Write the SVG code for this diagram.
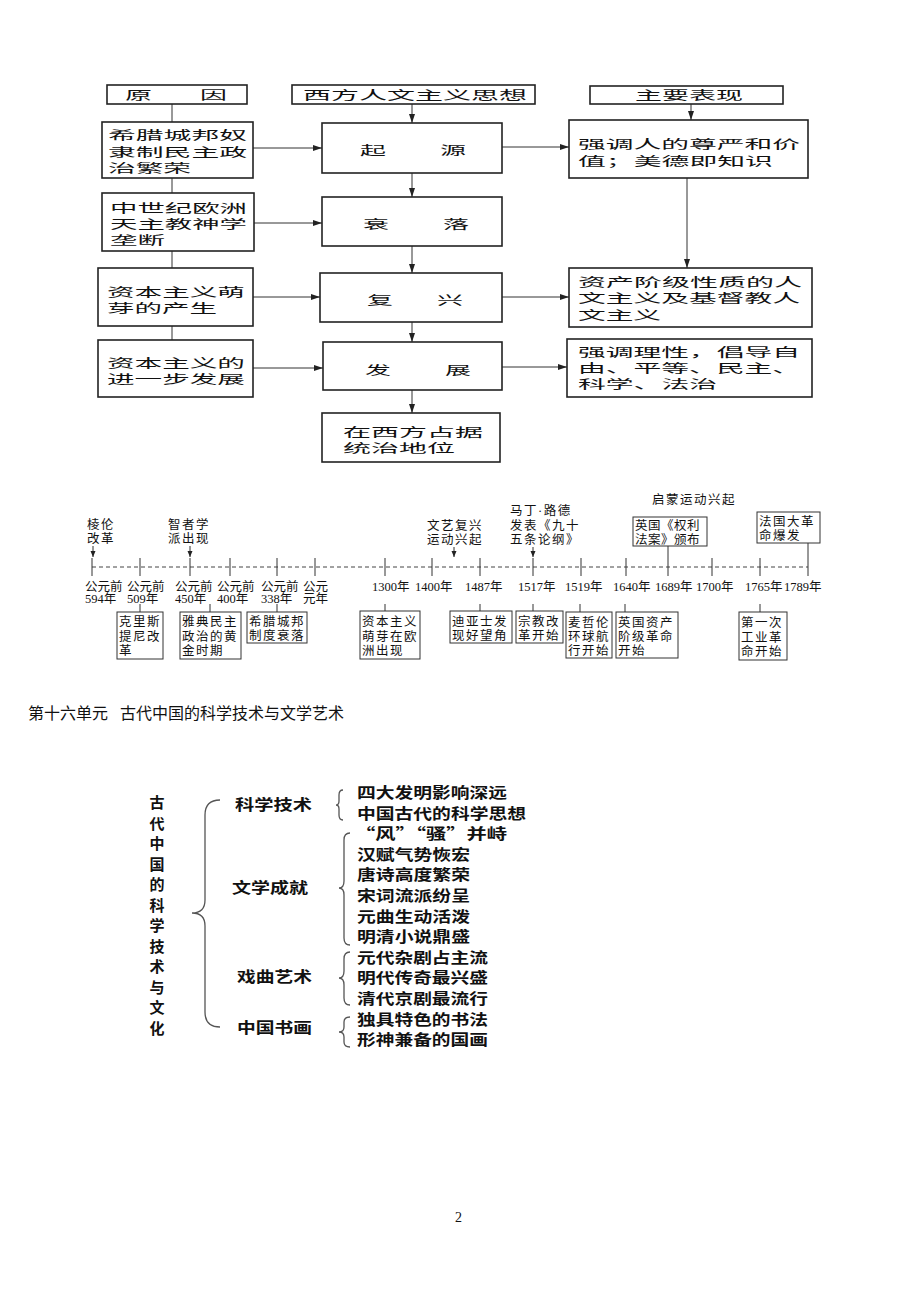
<svg xmlns="http://www.w3.org/2000/svg" width="920" height="1302" viewBox="0 0 920 1302">
<style>
.box{fill:#fff;stroke:#222;stroke-width:1.6}
.tbox{fill:#fff;stroke:#333;stroke-width:1}
.ft{font-family:"Noto Sans CJK SC",sans-serif;font-size:12.5px;fill:#111}
.tl{font-family:"Liberation Serif","Noto Sans CJK SC",serif;font-size:12.5px;fill:#111}
.tb{font-family:"Liberation Serif","Noto Sans CJK SC",serif;font-size:12.5px;letter-spacing:1.5px;fill:#111}
.bt{font-family:"Noto Sans CJK SC",sans-serif;font-size:15px;font-weight:bold;fill:#111}
.ttl{font-family:"Noto Sans CJK SC",sans-serif;font-size:16px;fill:#111}
.pg{font-family:"Liberation Serif",serif;font-size:14px;fill:#111}
.conn{stroke:#333;stroke-width:1;fill:none}
.arr{stroke:#333;stroke-width:1;fill:none;marker-end:url(#ah)}
.sarr{stroke:#333;stroke-width:1;fill:none;marker-end:url(#sah)}
.axis{stroke:#444;stroke-width:1;stroke-dasharray:4 3;fill:none}
.brace{stroke:#555;stroke-width:1.3;fill:none}
</style>
<defs>
<marker id="ah" markerWidth="9" markerHeight="6" refX="9" refY="3" orient="auto" markerUnits="userSpaceOnUse"><path d="M0,0 L9,3 L0,6 z" fill="#222"/></marker>
<marker id="sah" markerWidth="6" markerHeight="6" refX="6" refY="3" orient="auto" markerUnits="userSpaceOnUse"><path d="M0,0.5 L6,3 L0,5.5 z" fill="#222"/></marker>
</defs>

<!-- Flowchart connectors -->
<g id="connectors">
<line class="conn" x1="172" y1="104" x2="172" y2="122"/>
<line class="conn" x1="172" y1="178" x2="172" y2="193"/>
<line class="conn" x1="172" y1="251" x2="172" y2="268"/>
<line class="conn" x1="172" y1="326" x2="172" y2="340"/>
<line class="arr" x1="253" y1="148" x2="322" y2="148"/>
<line class="arr" x1="254" y1="223" x2="322" y2="223"/>
<line class="arr" x1="253" y1="297" x2="320" y2="297"/>
<line class="arr" x1="253" y1="368" x2="323" y2="368"/>
<line class="arr" x1="502" y1="147" x2="569" y2="147"/>
<line class="arr" x1="502" y1="297" x2="569" y2="297"/>
<line class="arr" x1="502" y1="367" x2="567" y2="367"/>
<line class="arr" x1="412" y1="104" x2="412" y2="123"/>
<line class="arr" x1="412" y1="173" x2="412" y2="197"/>
<line class="arr" x1="412" y1="246" x2="412" y2="273"/>
<line class="arr" x1="412" y1="322" x2="412" y2="342"/>
<line class="arr" x1="412" y1="390" x2="412" y2="413"/>
<line class="arr" x1="691" y1="104" x2="691" y2="120"/>
<line class="arr" x1="687" y1="178" x2="687" y2="268"/>
<!-- timeline connectors -->
<line class="axis" x1="92" y1="567" x2="808" y2="567"/>
<g class="conn">
<line x1="92" y1="558" x2="92" y2="576"/>
<line x1="140" y1="558" x2="140" y2="576"/>
<line x1="190" y1="558" x2="190" y2="576"/>
<line x1="230" y1="558" x2="230" y2="576"/>
<line x1="277" y1="558" x2="277" y2="576"/>
<line x1="315" y1="558" x2="315" y2="576"/>
<line x1="385" y1="558" x2="385" y2="576"/>
<line x1="432" y1="558" x2="432" y2="576"/>
<line x1="480" y1="558" x2="480" y2="576"/>
<line x1="533" y1="558" x2="533" y2="576"/>
<line x1="581" y1="558" x2="581" y2="576"/>
<line x1="626" y1="558" x2="626" y2="576"/>
<line x1="668" y1="546" x2="668" y2="576"/>
<line x1="712" y1="558" x2="712" y2="576"/>
<line x1="760" y1="558" x2="760" y2="576"/>
<line x1="808" y1="543" x2="808" y2="576"/>
<line x1="140" y1="604" x2="140" y2="612"/>
<line x1="210" y1="604" x2="210" y2="612"/>
<line x1="277" y1="604" x2="277" y2="612"/>
<line x1="385" y1="604" x2="385" y2="611"/>
<line x1="480" y1="604" x2="480" y2="611"/>
<line x1="533" y1="604" x2="533" y2="611"/>
<line x1="580" y1="604" x2="580" y2="612"/>
<line x1="625" y1="604" x2="625" y2="612"/>
<line x1="760" y1="604" x2="760" y2="612"/>
</g>
<line class="sarr" x1="93" y1="546" x2="93" y2="557"/>
<line class="sarr" x1="190" y1="546" x2="190" y2="557"/>
<line class="sarr" x1="454" y1="547" x2="454" y2="557"/>
<line class="sarr" x1="533" y1="547" x2="533" y2="557"/>
</g>

<!-- Flowchart nodes -->
<g id="n_cause_hdr"><rect class="box" x="107" y="85" width="140" height="19"/>
<text class="ft" y="100"><tspan x="125" textLength="27" lengthAdjust="spacingAndGlyphs">原</tspan><tspan x="200" textLength="27" lengthAdjust="spacingAndGlyphs">因</tspan></text></g>
<g id="n_title"><rect class="box" x="292" y="85" width="243" height="19"/>
<text class="ft" x="303" y="100" textLength="224" lengthAdjust="spacingAndGlyphs">西方人文主义思想</text></g>
<g id="n_perf_hdr"><rect class="box" x="590" y="86" width="193" height="18"/>
<text class="ft" x="635" y="100" textLength="108" lengthAdjust="spacingAndGlyphs">主要表现</text></g>

<g id="n_c1"><rect class="box" x="102" y="122" width="151" height="56"/>
<text class="ft" x="108" y="140" textLength="139" lengthAdjust="spacingAndGlyphs">希腊城邦奴</text>
<text class="ft" x="108" y="156.5" textLength="139" lengthAdjust="spacingAndGlyphs">隶制民主政</text>
<text class="ft" x="108" y="172.5" textLength="83" lengthAdjust="spacingAndGlyphs">治繁荣</text></g>
<g id="n_origin"><rect class="box" x="322" y="123" width="180" height="50"/>
<text class="ft" y="155"><tspan x="360" textLength="26" lengthAdjust="spacingAndGlyphs">起</tspan><tspan x="440" textLength="26" lengthAdjust="spacingAndGlyphs">源</tspan></text></g>
<g id="n_p1"><rect class="box" x="569" y="120" width="239" height="58"/>
<text class="ft" x="578" y="149" textLength="222" lengthAdjust="spacingAndGlyphs">强调人的尊严和价</text>
<text class="ft" x="578" y="166" textLength="195" lengthAdjust="spacingAndGlyphs">值；美德即知识</text></g>

<g id="n_c2"><rect class="box" x="102" y="193" width="152" height="58"/>
<text class="ft" x="110" y="213" textLength="137" lengthAdjust="spacingAndGlyphs">中世纪欧洲</text>
<text class="ft" x="110" y="229" textLength="137" lengthAdjust="spacingAndGlyphs">天主教神学</text>
<text class="ft" x="110" y="245" textLength="55" lengthAdjust="spacingAndGlyphs">垄断</text></g>
<g id="n_decline"><rect class="box" x="322" y="197" width="180" height="49"/>
<text class="ft" y="229"><tspan x="363" textLength="26" lengthAdjust="spacingAndGlyphs">衰</tspan><tspan x="443" textLength="26" lengthAdjust="spacingAndGlyphs">落</tspan></text></g>

<g id="n_c3"><rect class="box" x="98" y="268" width="155" height="58"/>
<text class="ft" x="107" y="297" textLength="138" lengthAdjust="spacingAndGlyphs">资本主义萌</text>
<text class="ft" x="107" y="313" textLength="110" lengthAdjust="spacingAndGlyphs">芽的产生</text></g>
<g id="n_revival"><rect class="box" x="320" y="273" width="182" height="49"/>
<text class="ft" y="305"><tspan x="367" textLength="26" lengthAdjust="spacingAndGlyphs">复</tspan><tspan x="437" textLength="26" lengthAdjust="spacingAndGlyphs">兴</tspan></text></g>
<g id="n_p2"><rect class="box" x="569" y="268" width="243" height="59"/>
<text class="ft" x="578" y="287" textLength="224" lengthAdjust="spacingAndGlyphs">资产阶级性质的人</text>
<text class="ft" x="578" y="303" textLength="222" lengthAdjust="spacingAndGlyphs">文主义及基督教人</text>
<text class="ft" x="578" y="319.5" textLength="83" lengthAdjust="spacingAndGlyphs">文主义</text></g>

<g id="n_c4"><rect class="box" x="98" y="340" width="155" height="57"/>
<text class="ft" x="107" y="368" textLength="138" lengthAdjust="spacingAndGlyphs">资本主义的</text>
<text class="ft" x="107" y="384" textLength="138" lengthAdjust="spacingAndGlyphs">进一步发展</text></g>
<g id="n_dev"><rect class="box" x="323" y="342" width="179" height="48"/>
<text class="ft" y="375"><tspan x="365" textLength="26" lengthAdjust="spacingAndGlyphs">发</tspan><tspan x="445" textLength="26" lengthAdjust="spacingAndGlyphs">展</tspan></text></g>
<g id="n_p3"><rect class="box" x="567" y="339" width="245" height="58"/>
<text class="ft" x="578" y="357" textLength="222" lengthAdjust="spacingAndGlyphs">强调理性，倡导自</text>
<text class="ft" x="578" y="373" textLength="222" lengthAdjust="spacingAndGlyphs">由、平等、民主、</text>
<text class="ft" x="578" y="389" textLength="139" lengthAdjust="spacingAndGlyphs">科学、法治</text></g>
<g id="n_dom"><rect class="box" x="322" y="413" width="178" height="49"/>
<text class="ft" x="343" y="437" textLength="140" lengthAdjust="spacingAndGlyphs">在西方占据</text>
<text class="ft" x="343" y="453" textLength="112" lengthAdjust="spacingAndGlyphs">统治地位</text></g>

<!-- Timeline -->
<g id="t_annot">
<text class="tb" x="87" y="529">棱伦</text><text class="tb" x="87" y="543">改革</text>
<text class="tb" x="168" y="529">智者学</text><text class="tb" x="168" y="543">派出现</text>
<text class="tb" x="427" y="530">文艺复兴</text><text class="tb" x="427" y="544">运动兴起</text>
<text class="tb" x="510" y="515">马丁·路德</text><text class="tb" x="510" y="530">发表《九十</text><text class="tb" x="510" y="544">五条论纲》</text>
<text class="tb" x="652" y="504">启蒙运动兴起</text>
</g>
<g id="t_years">
<text class="tl" x="85" y="591">公元前</text><text class="tl" x="85" y="603">594年</text>
<text class="tl" x="127" y="591">公元前</text><text class="tl" x="127" y="603">509年</text>
<text class="tl" x="175" y="591">公元前</text><text class="tl" x="175" y="603">450年</text>
<text class="tl" x="217" y="591">公元前</text><text class="tl" x="217" y="603">400年</text>
<text class="tl" x="261" y="591">公元前</text><text class="tl" x="261" y="603">338年</text>
<text class="tl" x="303" y="591">公元</text><text class="tl" x="303" y="603">元年</text>
<text class="tl" x="372" y="591">1300年</text>
<text class="tl" x="415" y="591">1400年</text>
<text class="tl" x="465" y="591">1487年</text>
<text class="tl" x="518" y="591">1517年</text>
<text class="tl" x="565" y="591">1519年</text>
<text class="tl" x="613" y="591">1640年</text>
<text class="tl" x="655" y="591">1689年</text>
<text class="tl" x="696" y="591">1700年</text>
<text class="tl" x="745" y="591">1765年</text>
<text class="tl" x="784" y="591">1789年</text>
</g>
<g id="t_bill"><rect class="tbox" x="633" y="517" width="74" height="29"/>
<text class="tb" x="635" y="530" style="letter-spacing:0.5px">英国《权利</text><text class="tb" x="635" y="544" style="letter-spacing:0.5px">法案》颁布</text></g>
<g id="t_french"><rect class="tbox" x="757" y="512" width="63" height="31"/>
<text class="tb" x="759" y="526">法国大革</text><text class="tb" x="759" y="540">命爆发</text></g>
<g id="t_b1"><rect class="tbox" x="117" y="612" width="46" height="47"/>
<text class="tb" x="119" y="626">克里斯</text><text class="tb" x="119" y="640.5">提尼改</text><text class="tb" x="119" y="655">革</text></g>
<g id="t_b2"><rect class="tbox" x="180" y="612" width="61" height="47"/>
<text class="tb" x="182" y="626">雅典民主</text><text class="tb" x="182" y="640.5">政治的黄</text><text class="tb" x="182" y="655">金时期</text></g>
<g id="t_b3"><rect class="tbox" x="247" y="612" width="60" height="31"/>
<text class="tb" x="249" y="626">希腊城邦</text><text class="tb" x="249" y="640">制度衰落</text></g>
<g id="t_b4"><rect class="tbox" x="360" y="611" width="60" height="48"/>
<text class="tb" x="362" y="626">资本主义</text><text class="tb" x="362" y="640.5">萌芽在欧</text><text class="tb" x="362" y="655">洲出现</text></g>
<g id="t_b5"><rect class="tbox" x="450" y="611" width="62" height="32"/>
<text class="tb" x="452" y="626">迪亚士发</text><text class="tb" x="452" y="640">现好望角</text></g>
<g id="t_b6"><rect class="tbox" x="516" y="611" width="47" height="32"/>
<text class="tb" x="518" y="626">宗教改</text><text class="tb" x="518" y="640">革开始</text></g>
<g id="t_b7"><rect class="tbox" x="566" y="612" width="46" height="46"/>
<text class="tb" x="568" y="626.5">麦哲伦</text><text class="tb" x="568" y="640.5">环球航</text><text class="tb" x="568" y="655">行开始</text></g>
<g id="t_b8"><rect class="tbox" x="616" y="612" width="62" height="46"/>
<text class="tb" x="618" y="626.5">英国资产</text><text class="tb" x="618" y="640.5">阶级革命</text><text class="tb" x="618" y="655">开始</text></g>
<g id="t_b9"><rect class="tbox" x="739" y="612" width="48" height="48"/>
<text class="tb" x="741" y="627">第一次</text><text class="tb" x="741" y="641.5">工业革</text><text class="tb" x="741" y="656">命开始</text></g>

<!-- Section title -->
<text class="ttl" x="28" y="719">第十六单元 <tspan x="120">古代中国的科学技术与文学艺术</tspan></text>

<!-- Bottom concept map -->
<g id="m_root">
<text class="bt" text-anchor="middle" x="157" y="808">古</text>
<text class="bt" text-anchor="middle" x="157" y="828.5">代</text>
<text class="bt" text-anchor="middle" x="157" y="849">中</text>
<text class="bt" text-anchor="middle" x="157" y="869.5">国</text>
<text class="bt" text-anchor="middle" x="157" y="890">的</text>
<text class="bt" text-anchor="middle" x="157" y="910.5">科</text>
<text class="bt" text-anchor="middle" x="157" y="931">学</text>
<text class="bt" text-anchor="middle" x="157" y="951.5">技</text>
<text class="bt" text-anchor="middle" x="157" y="972">术</text>
<text class="bt" text-anchor="middle" x="157" y="992.5">与</text>
<text class="bt" text-anchor="middle" x="157" y="1013">文</text>
<text class="bt" text-anchor="middle" x="157" y="1033.5">化</text>
</g>
<g id="m_braces">
<path class="brace" d="M220,800 Q205,800 205,815 L205,900 Q205,913 192,913 Q205,913 205,926 L205,1012 Q205,1027 220,1027"/>
<path class="brace" d="M343,790 Q339,790 339,795 L339,801 Q339,805 336,805 Q339,805 339,809 L339,815 Q339,820 343,820"/>
<path class="brace" d="M350,833 Q344,833 344,840 L344,881 Q344,888 339,888 Q344,888 344,895 L344,938 Q344,945 350,945"/>
<path class="brace" d="M350,952 Q344,952 344,959 L344,971 Q344,978 339,978 Q344,978 344,985 L344,998 Q344,1005 350,1005"/>
<path class="brace" d="M350,1017 Q344,1017 344,1022 L344,1027 Q344,1032 339,1032 Q344,1032 344,1037 L344,1042 Q344,1047 350,1047"/>
</g>
<g id="m_sci"><text class="bt" x="235" y="810" textLength="77" lengthAdjust="spacingAndGlyphs">科学技术</text>
<text class="bt" x="357" y="798" textLength="150" lengthAdjust="spacingAndGlyphs">四大发明影响深远</text>
<text class="bt" x="357" y="818.6" textLength="169" lengthAdjust="spacingAndGlyphs">中国古代的科学思想</text></g>
<g id="m_lit"><text class="bt" x="232" y="893" textLength="76" lengthAdjust="spacingAndGlyphs">文学成就</text>
<text class="bt" x="355" y="839" textLength="152" lengthAdjust="spacingAndGlyphs">“风”“骚”并峙</text>
<text class="bt" x="357" y="859.8" textLength="113" lengthAdjust="spacingAndGlyphs">汉赋气势恢宏</text>
<text class="bt" x="357" y="880.4" textLength="113" lengthAdjust="spacingAndGlyphs">唐诗高度繁荣</text>
<text class="bt" x="357" y="901" textLength="113" lengthAdjust="spacingAndGlyphs">宋词流派纷呈</text>
<text class="bt" x="357" y="921.6" textLength="113" lengthAdjust="spacingAndGlyphs">元曲生动活泼</text>
<text class="bt" x="357" y="942" textLength="113" lengthAdjust="spacingAndGlyphs">明清小说鼎盛</text></g>
<g id="m_opera"><text class="bt" x="237" y="982" textLength="75" lengthAdjust="spacingAndGlyphs">戏曲艺术</text>
<text class="bt" x="357" y="962.8" textLength="131" lengthAdjust="spacingAndGlyphs">元代杂剧占主流</text>
<text class="bt" x="357" y="983.4" textLength="131" lengthAdjust="spacingAndGlyphs">明代传奇最兴盛</text>
<text class="bt" x="357" y="1004" textLength="131" lengthAdjust="spacingAndGlyphs">清代京剧最流行</text></g>
<g id="m_paint"><text class="bt" x="237" y="1033" textLength="75" lengthAdjust="spacingAndGlyphs">中国书画</text>
<text class="bt" x="357" y="1024.6" textLength="131" lengthAdjust="spacingAndGlyphs">独具特色的书法</text>
<text class="bt" x="357" y="1045" textLength="131" lengthAdjust="spacingAndGlyphs">形神兼备的国画</text></g>

<text class="pg" x="455" y="1222">2</text>
</svg>
